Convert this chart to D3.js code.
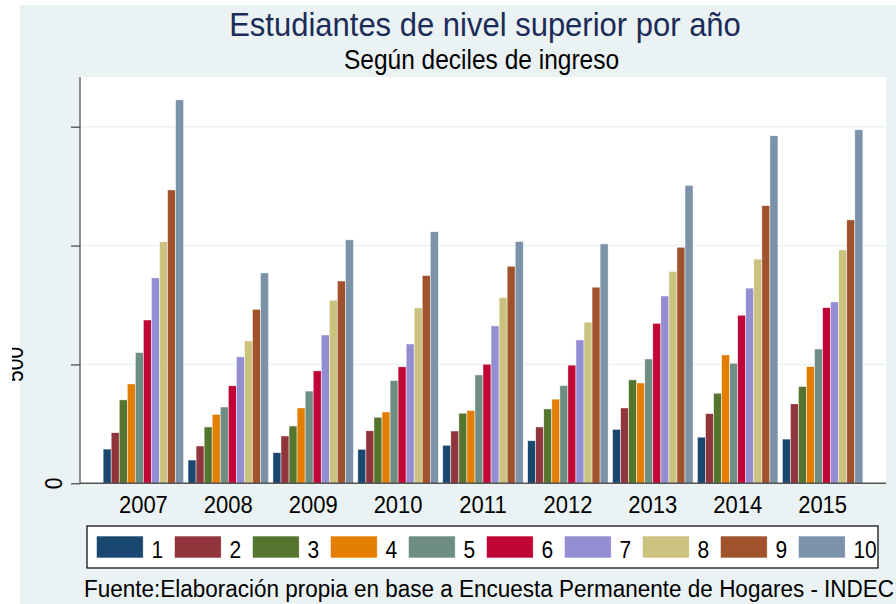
<!DOCTYPE html>
<html><head><meta charset="utf-8">
<script src="https://cdn.jsdelivr.net/npm/d3@7"></script>
<style>html,body{margin:0;padding:0;background:#fff;} svg{display:block;font-family:"Liberation Sans",Arial,sans-serif;}</style>
</head><body>
<script>
const years = ["2007","2008","2009","2010","2011","2012","2013","2014","2015"];
const deciles = ["1","2","3","4","5","6","7","8","9","10"];
const decile1  = [144, 98,129,143,160,179,227,194,186];
const decile2  = [213,157,199,221,220,237,317,293,334];
const decile3  = [351,237,241,278,295,313,435,379,407];
const decile4  = [418,290,317,300,306,354,422,540,491];
const decile5  = [550,321,388,432,456,411,523,505,565];
const decile6  = [687,410,473,490,501,497,673,707,739];
const decile7  = [864,532,624,586,662,603,788,821,763];
const decile8  = [1016,599,770,738,781,678,891,943,982];
const decile9  = [1234,732,851,874,913,825,993,1168,1108];
const decile10 = [1613,885,1024,1058,1017,1007,1253,1462,1487];
const yTicks = [0,500,1000,1500];
const colors = ["#1a476f","#90353b","#55752f","#e37e00","#6e8e84","#c10534","#938dd2","#cac27e","#a0522d","#7b92a8"];

const series = [decile1,decile2,decile3,decile4,decile5,decile6,decile7,decile8,decile9,decile10];
const W = 896, H = 604;
const plot = {l:80, r:886, t:77, b:483.3};
const SY = 1.1; // vertical stretch of the text, as in the reference

const svg = d3.select("body").append("svg").attr("width",W).attr("height",H);
svg.append("rect").attr("width",W).attr("height",H).attr("fill","#fff");
svg.append("rect").attr("x",20).attr("y",5).attr("width",W-20).attr("height",H-5).attr("fill","#eaf2f3");
svg.append("rect").attr("x",plot.l).attr("y",plot.t).attr("width",plot.r-plot.l).attr("height",plot.b-plot.t).attr("fill","#fff");

const x0 = d3.scaleBand().domain(years).range([plot.l, plot.r]).paddingInner(0.052).paddingOuter(0.2725);
const x1 = d3.scaleBand().domain(deciles).range([0, x0.bandwidth()]);
const y = d3.scaleLinear().domain([0,1500]).range([plot.b, 126.7]);

// gridlines
svg.append("g").selectAll("line").data(yTicks.filter(d=>d>0)).join("line")
  .attr("x1",plot.l).attr("x2",plot.r).attr("y1",d=>y(d)).attr("y2",d=>y(d))
  .attr("stroke","#eaf2f3").attr("stroke-width",1.5);

// bars
const gYears = svg.append("g").selectAll("g").data(years).join("g")
  .attr("transform",d=>`translate(${x0(d)},0)`);
gYears.selectAll("rect").data((yr,i)=>series.map((s,k)=>({k, v:s[i]}))).join("rect")
  .attr("x",d=>x1(deciles[d.k])).attr("width",x1.bandwidth())
  .attr("y",d=>y(d.v)).attr("height",d=>y(0)-y(d.v))
  .attr("fill",d=>colors[d.k]).attr("stroke","#fff").attr("stroke-width",0.6).attr("stroke-opacity",0.8);

// axes
const yAxis = svg.append("g").attr("transform",`translate(${plot.l},0)`)
  .call(d3.axisLeft(y).tickValues(yTicks).tickSize(9).tickFormat(""));
yAxis.select(".domain").attr("d",`M0,${plot.t}V${plot.b}`).attr("stroke","#555").attr("stroke-width",1.3);
yAxis.selectAll(".tick line").attr("stroke","#444").attr("stroke-width",1.2);

// rotated y tick labels; in the reference they drift left, so only those that land on the page are drawn
const yLab = yTicks.map((d,i)=>({d, x: 62 - 38.7*i})).filter(o=>o.x > 12);
svg.append("clipPath").attr("id","lc").append("rect").attr("x",12).attr("y",0).attr("width",W).attr("height",H);
svg.append("g").attr("clip-path","url(#lc)").selectAll("text").data(yLab).join("text")
  .attr("transform",o=>`translate(${o.x},${y(o.d)}) rotate(-90) scale(1,${SY})`)
  .attr("text-anchor","middle").attr("font-size",21).attr("fill","#000").text(o=>o.d);

const xAxis = svg.append("g").attr("transform",`translate(0,${plot.b})`)
  .call(d3.axisBottom(x0).tickSize(0).tickPadding(0));
xAxis.select(".domain").attr("d",`M${plot.l},0H${plot.r}`).attr("stroke","#555").attr("stroke-width",1.6);
xAxis.selectAll(".tick text").attr("font-size",22).attr("fill","#000").attr("font-family","Liberation Sans, Arial, sans-serif")
  .attr("dy",null).attr("y",0).attr("transform",`translate(0,30) scale(1,${SY})`);

// titles
function stext(xp, yp, size, fill, anchor, str){
  return svg.append("text").attr("transform",`translate(${xp},${yp}) scale(1,${SY})`)
    .attr("text-anchor",anchor).attr("font-size",size).attr("fill",fill).text(str);
}
stext(485, 36, 31, "#1c2b57", "middle", "Estudiantes de nivel superior por año");
stext(481.5, 69, 24.5, "#000", "middle", "Según deciles de ingreso");

// legend
const lg = svg.append("g");
lg.append("rect").attr("x",87).attr("y",526).attr("width",791).attr("height",42).attr("fill","#fff").attr("stroke","#000").attr("stroke-width",1.2);
const li = lg.selectAll("g").data(deciles).join("g").attr("transform",(d,i)=>`translate(${96.4+i*78},536)`);
li.append("rect").attr("width",46.8).attr("height",22).attr("fill",(d,i)=>colors[i]).attr("stroke","#fff").attr("stroke-width",0.6);
li.append("text").attr("transform",`translate(55,21.5) scale(1,${SY})`).attr("font-size",21).attr("fill","#000").text(d=>d);

stext(84, 597, 22.5, "#000", "start", "Fuente:Elaboración propia en base a Encuesta Permanente de Hogares - INDEC");
</script>
</body></html>
